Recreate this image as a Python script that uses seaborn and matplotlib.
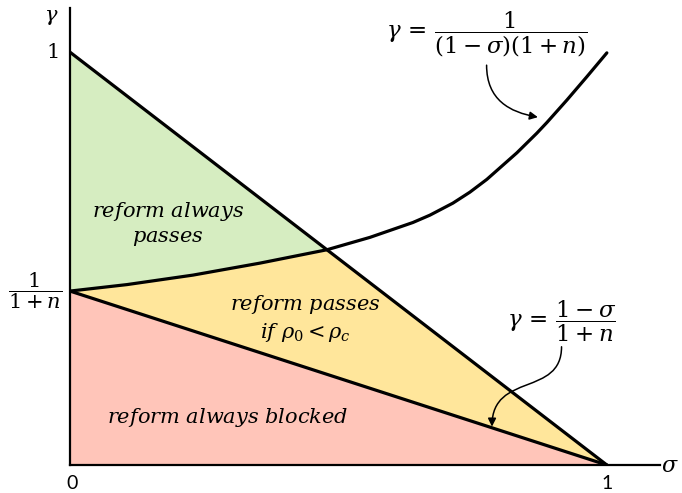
import numpy as np
import matplotlib
matplotlib.use("Agg")
import matplotlib.pyplot as plt
from matplotlib.patches import FancyArrowPatch
from matplotlib.path import Path
import seaborn as sns
import pandas as pd

# Threshold level 1/(1+n) on the gamma axis
gamma_low = 0.4213

# Boundary gamma = 1/((1-sigma)(1+n)) as sketched
curve_sigma = [0.0, 0.1061, 0.2291, 0.3538, 0.4786, 0.5587, 0.6387, 0.6704,
               0.7132, 0.7449, 0.7765, 0.8324, 0.8696, 0.8883, 0.9255, 0.9628, 1.0]
curve_gamma = [0.4213, 0.4370, 0.4600, 0.4890, 0.5214, 0.5514, 0.5874, 0.6052,
               0.6343, 0.6609, 0.6919, 0.7562, 0.8038, 0.8296, 0.8839, 0.9406, 0.9983]

# Straight boundaries: gamma = 1 - sigma and gamma = (1 - sigma)/(1 + n)
upper_sigma = [0.0, 1.0]
upper_gamma = [1.0, 0.0]
lower_sigma = [0.0, 1.0]
lower_gamma = [gamma_low, 0.0]

# Index of the crossing of the curve with gamma = 1 - sigma
cross_idx = 4

green = "#d6edc1"
yellow = "#ffe69b"
red = "#ffc5b9"

sns.set_theme(style="white")
plt.rcParams["mathtext.fontset"] = "dejavuserif"
plt.rcParams["font.family"] = ["DejaVu Serif"]

fig = plt.figure(figsize=(6.82, 4.93), dpi=100)
ax = fig.add_axes([70 / 682, 28 / 493, 590 / 682, 457 / 493])
ax.set_xlim(0, 1.099)
ax.set_ylim(0, 1.107)

# Regions
cs = curve_sigma[:cross_idx + 1]
cg = curve_gamma[:cross_idx + 1]
ax.fill([0.0] + cs + [0.0], [upper_gamma[0]] + cg + [upper_gamma[0]],
        color=green, lw=0, zorder=1)
ax.fill(cs + [upper_sigma[1], lower_sigma[0]], cg + [upper_gamma[1], lower_gamma[0]],
        color=yellow, lw=0, zorder=1)
ax.fill([0.0, lower_sigma[0], lower_sigma[1]], [0.0, lower_gamma[0], lower_gamma[1]],
        color=red, lw=0, zorder=1)

lw = 2.3
df_curve = pd.DataFrame({"sigma": curve_sigma, "gamma": curve_gamma})
sns.lineplot(data=df_curve, x="sigma", y="gamma", color="black", lw=lw,
             sort=False, ax=ax, zorder=3)
sns.lineplot(x=upper_sigma, y=upper_gamma, color="black", lw=lw, ax=ax, zorder=3)
sns.lineplot(x=lower_sigma, y=lower_gamma, color="black", lw=lw, ax=ax, zorder=3)

for side in ("top", "right"):
    ax.spines[side].set_visible(False)
for side in ("left", "bottom"):
    ax.spines[side].set_color("black")
    ax.spines[side].set_linewidth(1.6)
    ax.spines[side].set_zorder(4)
ax.set_xticks([])
ax.set_yticks([])
ax.set_xlabel("")
ax.set_ylabel("")

kw = dict(ha="center", va="center", clip_on=False, color="black")
# Axis annotations
ax.text(-0.035, 1.085, r"$\gamma$", fontsize=15, **kw)
ax.text(1.117, -0.003, r"$\sigma$", fontsize=16, **kw)
ax.text(-0.034, 1.0, r"$1$", fontsize=15, **kw)
ax.text(0.004, -0.045, "0", fontsize=14, family="Lato", **kw)
ax.text(1.0, -0.046, "1", fontsize=14, family="Lato", **kw)
ax.text(-0.065, gamma_low, r"$\dfrac{1}{1+n}$", fontsize=15, **kw)

# Region labels
ax.text(0.183, 0.583, "$reform\\ always$\n$passes$", fontsize=15,
        linespacing=1.25, **kw)
ax.text(0.438, 0.355, "$reform\\ passes$\n$if\\ \\rho_0 < \\rho_c$", fontsize=15,
        linespacing=1.25, **kw)
ax.text(0.294, 0.114, r"$reform\ always\ blocked$", fontsize=15, **kw)

# Boundary equations
ax.text(0.776, 1.043, r"$\gamma\,=\,\dfrac{1}{(1-\sigma)(1+n)}$", fontsize=16.5, **kw)
ax.text(0.915, 0.347, r"$\gamma\,=\,\dfrac{1-\sigma}{1+n}$", fontsize=16.5, **kw)

# Pointer arrows
p1 = Path([(0.776, 0.9685), (0.776, 0.884), (0.8194, 0.8547), (0.8715, 0.8426)],
          [Path.MOVETO, Path.CURVE4, Path.CURVE4, Path.CURVE4])
ax.add_patch(FancyArrowPatch(path=p1, arrowstyle="-|>", mutation_scale=12,
                             lw=1.1, color="black", zorder=5))
p2 = Path([(0.9156, 0.2864), (0.9156, 0.165), (0.787, 0.225), (0.786, 0.093)],
          [Path.MOVETO, Path.CURVE4, Path.CURVE4, Path.CURVE4])
ax.add_patch(FancyArrowPatch(path=p2, arrowstyle="-|>", mutation_scale=12,
                             lw=1.1, color="black", zorder=5))

fig.savefig("out.png", dpi=100)
